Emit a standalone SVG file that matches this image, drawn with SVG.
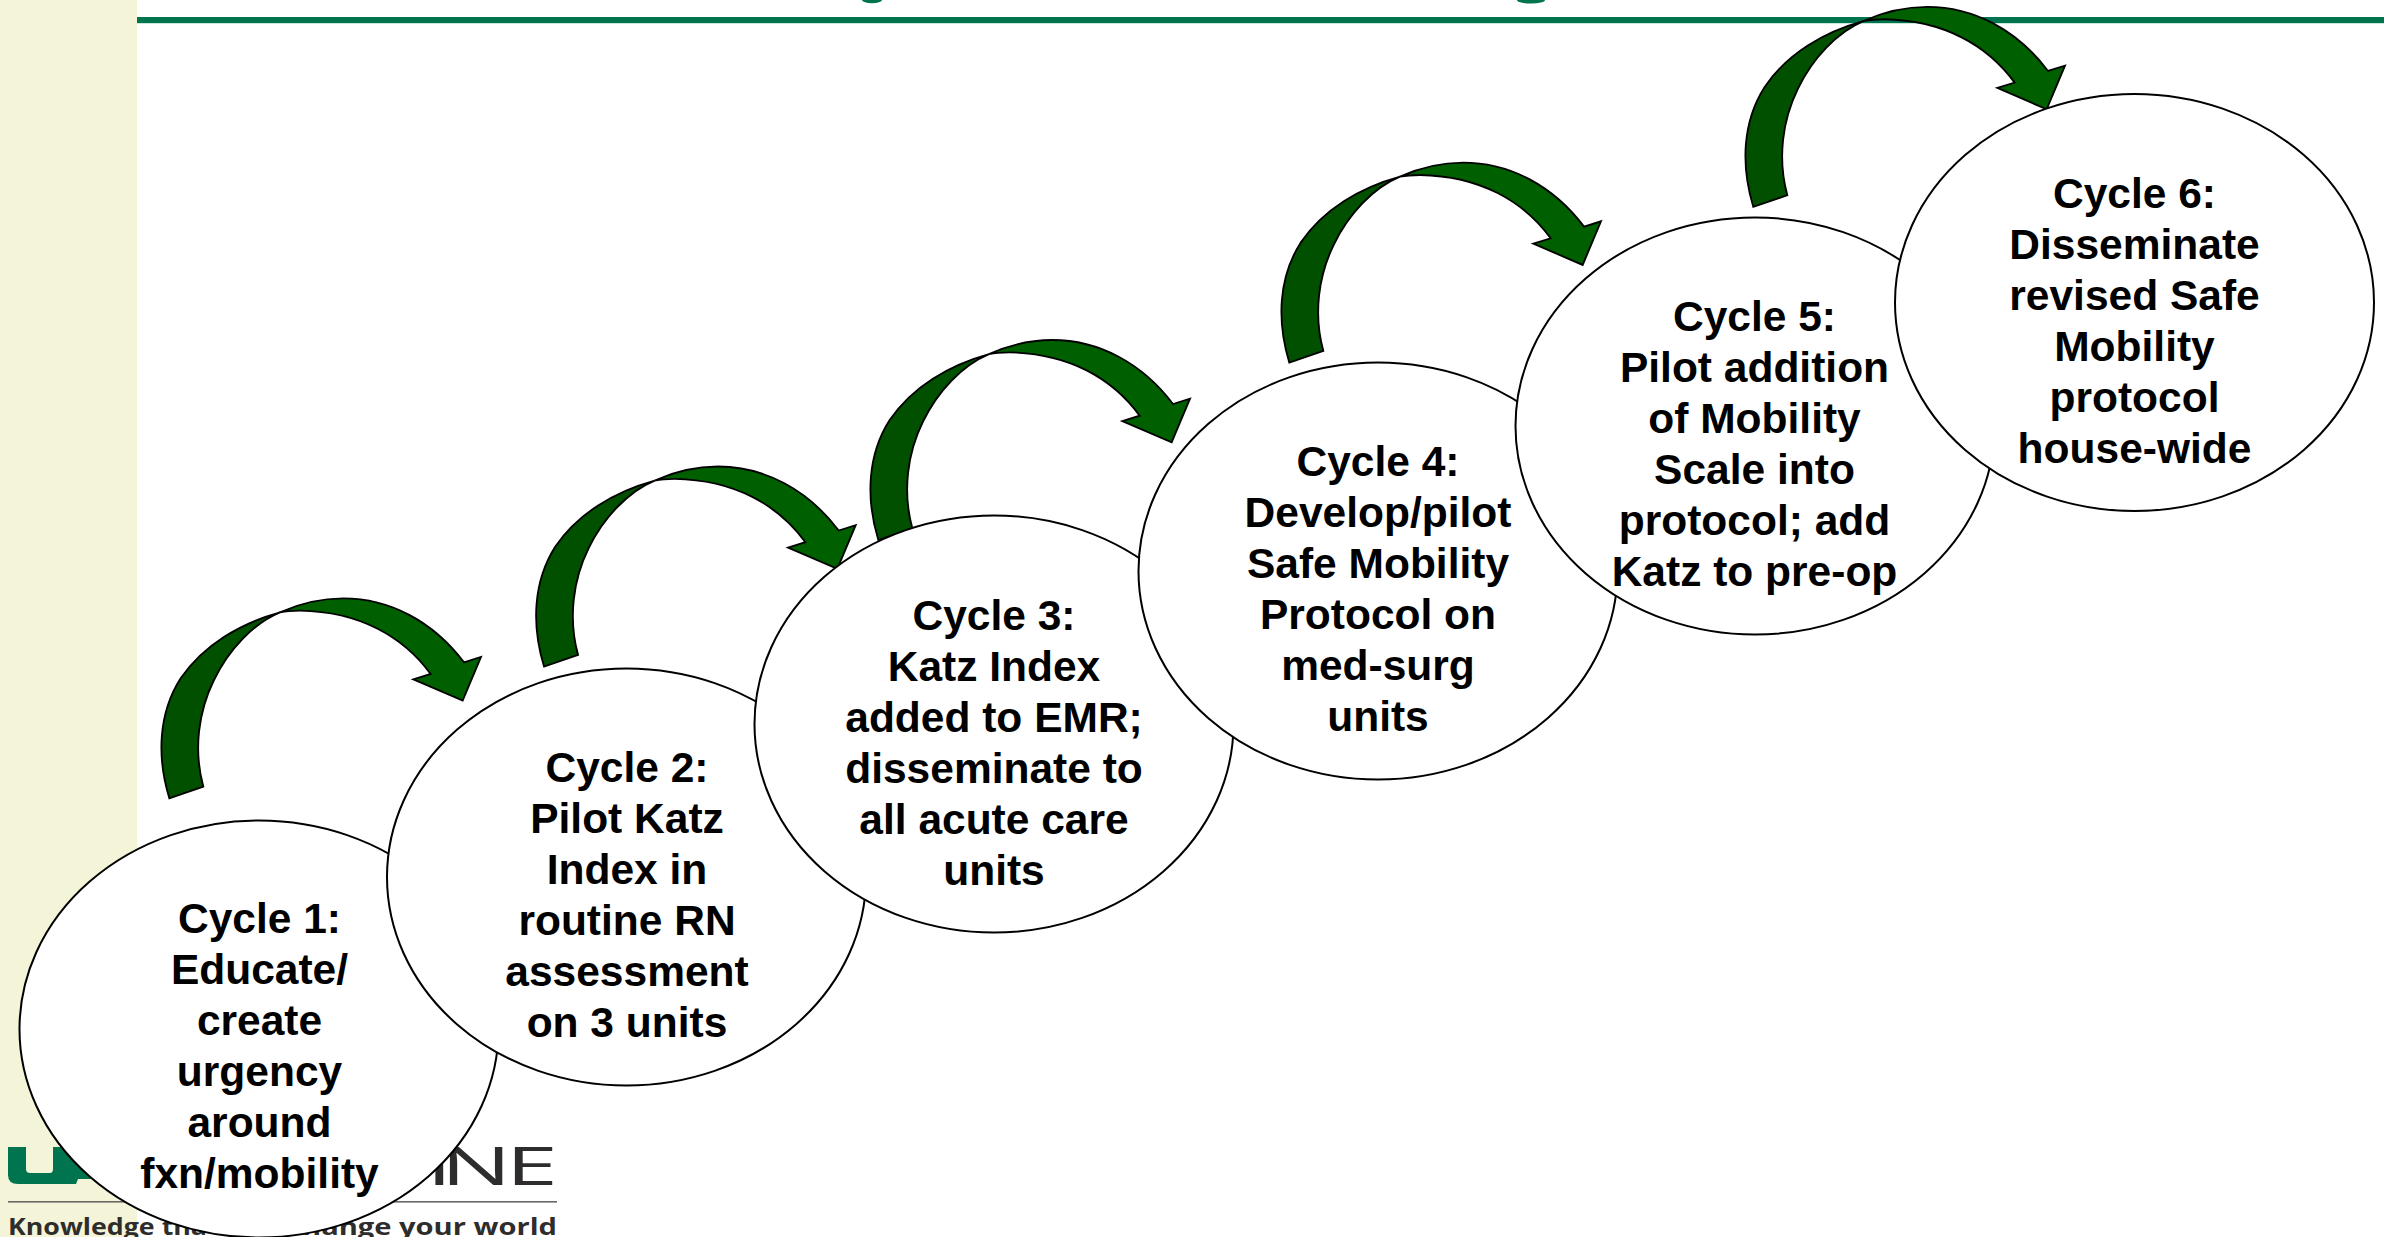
<svg xmlns="http://www.w3.org/2000/svg" xmlns:xlink="http://www.w3.org/1999/xlink" width="2384" height="1237" viewBox="0 0 2384 1237">
<style>
.n{fill:#fff;stroke:#000;stroke-width:2}
.t{font-family:"Liberation Sans",Arial,sans-serif;font-weight:700;font-size:42.5px;fill:#000;text-anchor:middle}
.a{stroke:#000;stroke-width:5.5;stroke-linejoin:miter}
.logo{font-family:"Open Sans","Liberation Sans",sans-serif;fill:#2f2d2c}
</style>
<defs>
<g id="arrow" transform="translate(140 580) scale(.33333)">
<path class="a" fill="#006000" d="M420,97C480,70 550,55 610,55C750,55 880,125 972,247L1023,231L968,362L820,298L872,282C790,170 660,95 480,92C455,92 435,94 420,97Z"/>
<path class="a" fill="#005000" d="M88,655C50,530 55,400 122,295C190,195 300,130 420,97C340,130 265,210 222,300C175,395 160,510 190,620Z"/>
</g>
</defs>
<rect width="2384" height="1237" fill="#fff"/>
<rect width="137" height="1237" fill="#f4f4d9"/>
<rect x="137" y="17" width="2247" height="6" fill="#00734f"/>
<rect x="137" y="23" width="2247" height="1" fill="#c5e8d8"/>
<ellipse cx="872" cy="0" rx="10" ry="3.3" fill="#00734f"/>
<ellipse cx="1531" cy="0" rx="14" ry="3.6" fill="#00734f"/>
<g id="logo">
<path fill="#00734f" d="M8,1147H26V1169Q26,1173 30,1173H50Q53,1173 53,1169V1147H140V1179H78L76,1184H18Q8,1184 8,1175Z"/>
<rect x="8" y="1201" width="549" height="1.6" fill="#6b6864"/>
<text class="logo" transform="translate(0 1185) scale(1.77 1)" x="240.8 249 285.8" y="0" font-size="53">INE</text>
<text class="logo" x="8" y="1235" font-size="23" font-weight="700" textLength="199" lengthAdjust="spacingAndGlyphs">Knowledge tha</text>
<text class="logo" x="302" y="1235" font-size="23" font-weight="700" textLength="255" lengthAdjust="spacingAndGlyphs">hange your world</text>
</g>
<g id="connectors">
<use xlink:href="#arrow" href="#arrow"/>
<use xlink:href="#arrow" href="#arrow" transform="translate(374.7 -131.8)"/>
<use xlink:href="#arrow" href="#arrow" transform="translate(709 -258.3)"/>
<use xlink:href="#arrow" href="#arrow" transform="translate(1120 -435.7)"/>
<use xlink:href="#arrow" href="#arrow" transform="translate(1584 -591.4)"/>
</g>
<g id="cycle1"><ellipse class="n" cx="259" cy="1029" rx="239.5" ry="208.5"/>
<text class="t"><tspan x="259.5" y="933">Cycle 1:</tspan><tspan x="259.5" y="984">Educate/</tspan><tspan x="259.5" y="1035">create</tspan><tspan x="259.5" y="1086">urgency</tspan><tspan x="259.5" y="1137">around</tspan><tspan x="259.5" y="1188">fxn/mobility</tspan></text></g>
<g id="cycle2"><ellipse class="n" cx="626.5" cy="877" rx="239.5" ry="208.5"/>
<text class="t"><tspan x="627" y="782">Cycle 2:</tspan><tspan x="627" y="833">Pilot Katz</tspan><tspan x="627" y="884">Index in</tspan><tspan x="627" y="935">routine RN</tspan><tspan x="627" y="986">assessment</tspan><tspan x="627" y="1037">on 3 units</tspan></text></g>
<g id="cycle3"><ellipse class="n" cx="994" cy="724" rx="239.5" ry="208.5"/>
<text class="t"><tspan x="994" y="630">Cycle 3:</tspan><tspan x="994" y="681">Katz Index</tspan><tspan x="994" y="732">added to EMR;</tspan><tspan x="994" y="783">disseminate to</tspan><tspan x="994" y="834">all acute care</tspan><tspan x="994" y="885">units</tspan></text></g>
<g id="cycle4"><ellipse class="n" cx="1378" cy="571" rx="239.5" ry="208.5"/>
<text class="t"><tspan x="1378" y="476">Cycle 4:</tspan><tspan x="1378" y="527">Develop/pilot</tspan><tspan x="1378" y="578">Safe Mobility</tspan><tspan x="1378" y="629">Protocol on</tspan><tspan x="1378" y="680">med-surg</tspan><tspan x="1378" y="731">units</tspan></text></g>
<g id="cycle5"><ellipse class="n" cx="1755" cy="426" rx="239.5" ry="208.5"/>
<text class="t"><tspan x="1754.5" y="331">Cycle 5:</tspan><tspan x="1754.5" y="382">Pilot addition</tspan><tspan x="1754.5" y="433">of Mobility</tspan><tspan x="1754.5" y="484">Scale into</tspan><tspan x="1754.5" y="535">protocol; add</tspan><tspan x="1754.5" y="586">Katz to pre-op</tspan></text></g>
<g id="cycle6"><ellipse class="n" cx="2134.5" cy="302.5" rx="239.5" ry="208.5"/>
<text class="t"><tspan x="2134.5" y="208">Cycle 6:</tspan><tspan x="2134.5" y="259">Disseminate</tspan><tspan x="2134.5" y="310">revised Safe</tspan><tspan x="2134.5" y="361">Mobility</tspan><tspan x="2134.5" y="412">protocol</tspan><tspan x="2134.5" y="463">house-wide</tspan></text></g>
</svg>
